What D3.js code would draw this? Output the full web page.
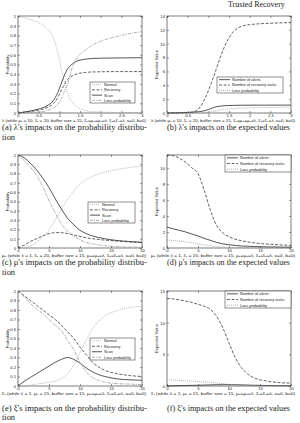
<!DOCTYPE html>
<html><head><meta charset="utf-8">
<script src="https://cdn.jsdelivr.net/npm/d3@7"></script>
<style>body{margin:0;background:#fff}svg{display:block}</style>
</head><body>
<svg id="c" width="300" height="423"></svg>
<script>
// ---------- data ----------
const lambdaX = [0, 0.25, 0.5, 0.7, 0.85, 0.95, 1.0, 1.05, 1.1, 1.15, 1.2, 1.3, 1.4, 1.6, 1.8, 2.0, 2.5, 3.0];
const normalA   = [1.0, 0.97, 0.93, 0.87, 0.78, 0.65, 0.56, 0.45, 0.36, 0.27, 0.2, 0.12, 0.07, 0.03, 0.015, 0.01, 0.005, 0.003];
const recoveryA = [0, 0.013, 0.03, 0.056, 0.095, 0.15, 0.19, 0.24, 0.275, 0.315, 0.345, 0.38, 0.40, 0.417, 0.423, 0.425, 0.427, 0.427];
const scanA     = [0, 0.017, 0.04, 0.074, 0.125, 0.2, 0.25, 0.31, 0.365, 0.415, 0.455, 0.5, 0.53, 0.553, 0.562, 0.565, 0.568, 0.57];
const lossA     = [0, 0.003, 0.01, 0.025, 0.05, 0.08, 0.11, 0.15, 0.2, 0.25, 0.3, 0.45, 0.55, 0.64, 0.7, 0.74, 0.8, 0.84];
const alertsB   = [0, 0.03, 0.08, 0.15, 0.25, 0.4, 0.5, 0.62, 0.73, 0.83, 0.91, 1.0, 1.06, 1.1, 1.12, 1.13, 1.135, 1.14];
const tasksB    = [0, 0.01, 0.05, 0.3, 1.3, 2.5, 3.2, 4.0, 4.8, 5.6, 6.5, 8.2, 9.7, 11.7, 12.5, 12.75, 12.95, 13.05];

const muX = [0, 1, 2, 3, 4, 5, 6, 7, 8, 9, 10, 11, 12, 14, 16, 18, 20];
const normalC   = [0, 0, 0.02, 0.06, 0.12, 0.195, 0.305, 0.415, 0.525, 0.61, 0.685, 0.735, 0.77, 0.815, 0.845, 0.865, 0.88];
const recoveryC = [0, 0.03, 0.07, 0.1, 0.13, 0.155, 0.165, 0.165, 0.155, 0.14, 0.125, 0.11, 0.1, 0.085, 0.075, 0.065, 0.06];
const scanC     = [1.0, 0.97, 0.91, 0.84, 0.75, 0.65, 0.53, 0.42, 0.32, 0.25, 0.19, 0.155, 0.13, 0.1, 0.08, 0.07, 0.06];
const lossC     = [1.0, 0.94, 0.87, 0.78, 0.66, 0.51, 0.38, 0.26, 0.18, 0.13, 0.09, 0.06, 0.045, 0.025, 0.015, 0.01, 0.008];
const alertsD   = [2.6, 2.4, 2.2, 2.0, 1.75, 1.5, 1.2, 0.95, 0.7, 0.52, 0.4, 0.32, 0.25, 0.18, 0.14, 0.12, 0.1];
const tasksD    = [11.6, 11.5, 11.2, 10.7, 10.0, 9.3, 7.2, 4.7, 2.8, 1.9, 1.4, 1.1, 0.9, 0.65, 0.5, 0.4, 0.33];

const xiX = [0, 1, 2, 3, 4, 5, 6, 7, 8, 9, 10, 11, 12, 13, 14, 16, 18, 20];
const normalE   = [0, 0, 0.01, 0.02, 0.03, 0.04, 0.05, 0.08, 0.13, 0.22, 0.35, 0.48, 0.6, 0.68, 0.735, 0.795, 0.825, 0.84];
const recoveryE = [1.0, 0.95, 0.9, 0.85, 0.8, 0.75, 0.7, 0.64, 0.57, 0.5, 0.41, 0.33, 0.25, 0.2, 0.165, 0.13, 0.11, 0.1];
const scanE     = [0, 0.05, 0.09, 0.13, 0.17, 0.21, 0.25, 0.28, 0.3, 0.28, 0.24, 0.19, 0.15, 0.12, 0.1, 0.075, 0.065, 0.06];
const lossE     = [1, 0.94, 0.87, 0.81, 0.76, 0.7, 0.64, 0.58, 0.48, 0.38, 0.25, 0.15, 0.09, 0.06, 0.04, 0.025, 0.02, 0.015];
const alertsF   = [0, 0.03, 0.05, 0.08, 0.1, 0.12, 0.15, 0.18, 0.2, 0.21, 0.22, 0.2, 0.18, 0.15, 0.12, 0.08, 0.06, 0.05];
const tasksF    = [13.8, 13.75, 13.6, 13.4, 13.2, 12.9, 12.6, 12.1, 11.0, 9.2, 6.8, 4.5, 2.9, 1.9, 1.3, 0.8, 0.55, 0.45];

const probTicks = [0, 0.1, 0.2, 0.3, 0.4, 0.5, 0.6, 0.7, 0.8, 0.9, 1];
const lambdaTicks = [0, 0.5, 1, 1.5, 2, 2.5, 3];
const rateTicks = [0, 5, 10, 15, 20];
const probLegend = ["Normal", "Recovery", "Scan", "Loss probability"];
const expLegend = ["Number of alerts", "Number of recovery tasks", "Loss probability"];
const xLabelA = "λ (while μ₁ = 10, ξ₁ = 20, buffer size = 15, ξ₂=μ₂=μ₃=λ, ξ₃=ξ₄=λ, a=0, b=0)";
const xLabelC = "μ₁ (while λ = 1, ξ₁ = 20, buffer size = 15, μ₂=μ₃=λ, ξ₂=ξ₃=λ, a=0, b=0)";
const xLabelE = "ξ₁ (while λ = 1, μ₁ = 15, buffer size = 15, μ₂=μ₃=λ, ξ₂=ξ₃=λ, a=0, b=0)";

// ---------- styles ----------
const ST = {
  normal:   {c:"#a8a8a8", d:"1,1",       w:0.8},
  recovery: {c:"#3a3a3a", d:"3,1.6",     w:0.8},
  scan:     {c:"#2a2a2a", d:null,        w:0.8},
  loss:     {c:"#9a9a9a", d:"3,1,1,1",   w:0.8},
  alerts:   {c:"#2a2a2a", d:null,        w:0.8},
  tasks:    {c:"#3a3a3a", d:"3,1.6",     w:0.8},
  lossE:    {c:"#a0a0a0", d:"1,1",       w:0.8}
};

const svg = d3.select('#c');
svg.append('rect').attr('width',300).attr('height',423).attr('fill','#fff');
svg.append('text').attr('x',228).attr('y',6.5).attr('font-family','Liberation Serif')
  .attr('font-size',8).attr('fill','#222').text('Trusted Recovery');

const SANS = 'Liberation Sans, Arial, sans-serif';

function panel(p){
  const x = d3.scaleLinear().domain(p.xd).range([p.l, p.r]);
  const y = d3.scaleLinear().domain(p.yd).range([p.b, p.t]);
  const g = svg.append('g');
  const fmt = p.xf || (d => String(d));
  const yf = p.yf || (d => String(d));
  const ax = g.append('g').attr('transform',`translate(0,${p.b})`)
    .call(d3.axisBottom(x).tickValues(p.xt).tickFormat(fmt).tickSizeInner(-2).tickSizeOuter(0).tickPadding(0.6));
  const axT = g.append('g').attr('transform',`translate(0,${p.t})`)
    .call(d3.axisTop(x).tickValues(p.xt).tickFormat('').tickSizeInner(-2).tickSizeOuter(0));
  const ay = g.append('g').attr('transform',`translate(${p.l},0)`)
    .call(d3.axisLeft(y).tickValues(p.yt).tickFormat(yf).tickSizeInner(-2).tickSizeOuter(0).tickPadding(2));
  const ayR = g.append('g').attr('transform',`translate(${p.r},0)`)
    .call(d3.axisRight(y).tickValues(p.yt).tickFormat('').tickSizeInner(-2).tickSizeOuter(0));
  [ax, axT, ay, ayR].forEach(a => {
    a.select('.domain').remove();
    a.selectAll('line').attr('stroke','#333').attr('stroke-width',0.5);
    a.selectAll('text').attr('font-family',SANS).attr('font-size',4.2).attr('fill','#222');
  });
  ax.selectAll('text').attr('dy','0.8em');
  g.append('rect').attr('x',p.l).attr('y',p.t).attr('width',p.r-p.l).attr('height',p.b-p.t)
    .attr('fill','none').attr('stroke','#222').attr('stroke-width',0.6);

  const line = d3.line().x(d=>x(d[0])).y(d=>y(d[1])).curve(d3.curveMonotoneX);
  p.series.forEach(s => {
    const st = ST[s.st];
    g.append('path').datum(p.xs.map((v,i)=>[v, s.v[i]]))
      .attr('d', line).attr('fill','none').attr('stroke',st.c).attr('stroke-width',st.w)
      .attr('stroke-dasharray', st.d);
  });

  // labels
  g.append('text').attr('x',p.l-16).attr('y',p.b+9.2).attr('font-family',SANS).attr('font-size',4)
    .attr('fill','#222').attr('textLength',p.r-p.l+20).attr('lengthAdjust','spacingAndGlyphs').text(p.xl);
  g.append('text').attr('transform',`translate(${p.l-9.5},${(p.t+p.b)/2}) rotate(-90)`)
    .attr('text-anchor','middle').attr('font-family',SANS).attr('font-size',4.2).attr('fill','#222').text(p.yl);

  // legend
  const L = p.leg;
  const lg = g.append('g');
  lg.append('rect').attr('x',L.x).attr('y',L.y).attr('width',L.w).attr('height',L.h)
    .attr('fill','#fff').attr('stroke','#222').attr('stroke-width',0.5);
  const rowH = L.h / p.series.length;
  p.series.forEach((s,i) => {
    const st = ST[s.st];
    const cy = L.y + rowH*(i+0.5);
    lg.append('line').attr('x1',L.x+2).attr('x2',L.x+2+L.ls).attr('y1',cy).attr('y2',cy)
      .attr('stroke',st.c).attr('stroke-width',st.w).attr('stroke-dasharray',st.d);
    lg.append('text').attr('x',L.x+4+L.ls).attr('y',cy+1.4).attr('font-family',SANS).attr('font-size',3.9)
      .attr('fill','#222').text(s.name);
  });
}

function caption(x, y, txt, len){
  svg.append('text').attr('x',x).attr('y',y).attr('font-family','Liberation Serif, Times New Roman, serif')
    .attr('font-size',7.2).attr('fill','#222').attr('textLength',len).attr('lengthAdjust','spacingAndGlyphs').text(txt);
}

const L1 = 18, R1 = 142, L2 = 167, R2 = 291;
const rows = [{t:16,b:113},{t:155,b:248},{t:291,b:386}];

panel({l:L1,r:R1,t:rows[0].t,b:rows[0].b,xd:[0,3],yd:[0,1],xt:lambdaTicks,yt:probTicks,xs:lambdaX,
  xl:xLabelA, yl:"Probability",
  series:[{name:probLegend[0],st:'normal',v:normalA},{name:probLegend[1],st:'recovery',v:recoveryA},
          {name:probLegend[2],st:'scan',v:scanA},{name:probLegend[3],st:'loss',v:lossA}],
  leg:{x:90,y:82,w:45,h:21,ls:10}});
panel({l:L2,r:R2,t:rows[0].t,b:rows[0].b,xd:[0,3],yd:[0,14],xt:lambdaTicks,yt:[0,2,4,6,8,10,12,14],xs:lambdaX,
  xl:xLabelA, yl:"Expected Value",
  series:[{name:expLegend[0],st:'alerts',v:alertsB},{name:expLegend[1],st:'tasks',v:tasksB},
          {name:expLegend[2],st:'lossE',v:lossA}],
  leg:{x:217,y:77,w:66,h:16,ls:11}});
panel({l:L1,r:R1,t:rows[1].t,b:rows[1].b,xd:[0,20],yd:[0,1],xt:rateTicks,yt:probTicks,xs:muX,
  xl:xLabelC, yl:"Probability",
  series:[{name:probLegend[0],st:'normal',v:normalC},{name:probLegend[1],st:'recovery',v:recoveryC},
          {name:probLegend[2],st:'scan',v:scanC},{name:probLegend[3],st:'loss',v:lossC}],
  leg:{x:88,y:202,w:47,h:21,ls:10}});
panel({l:L2,r:R2,t:rows[1].t,b:rows[1].b,xd:[0,20],yd:[0,11.6],xt:rateTicks,yt:[0,2,4,6,8,10],xs:muX,
  xl:xLabelC, yl:"Expected Value",
  series:[{name:expLegend[0],st:'alerts',v:alertsD},{name:expLegend[1],st:'tasks',v:tasksD},
          {name:expLegend[2],st:'lossE',v:lossC}],
  leg:{x:225,y:155,w:66,h:17,ls:11}});
panel({l:L1,r:R1,t:rows[2].t,b:rows[2].b,xd:[0,20],yd:[0,1],xt:rateTicks,yt:probTicks,xs:xiX,
  xl:xLabelE, yl:"Probability",
  series:[{name:probLegend[0],st:'normal',v:normalE},{name:probLegend[1],st:'recovery',v:recoveryE},
          {name:probLegend[2],st:'scan',v:scanE},{name:probLegend[3],st:'loss',v:lossE}],
  leg:{x:90,y:338,w:45,h:22,ls:10}});
panel({l:L2,r:R2,t:rows[2].t,b:rows[2].b,xd:[0,20],yd:[0,15],xt:rateTicks,yt:[0,5,10,15],xs:xiX,
  xl:xLabelE, yl:"Expected Value",
  series:[{name:expLegend[0],st:'alerts',v:alertsF},{name:expLegend[1],st:'tasks',v:tasksF},
          {name:expLegend[2],st:'lossE',v:lossE}],
  leg:{x:225,y:291,w:66,h:17,ls:11}});

caption(2, 130, "(a) λ's impacts on the probability distribu-", 145);
caption(2, 139.5, "tion", 13);
caption(167, 130, "(b) λ's impacts on the expected values", 123);
caption(2, 265, "(c) μ's impacts on the probability distribu-", 145);
caption(2, 274.5, "tion", 13);
caption(167, 265, "(d) μ's impacts on the expected values", 123);
caption(2, 410.5, "(e) ξ's impacts on the probability distribu-", 145);
caption(2, 420, "tion", 13);
caption(167, 410.5, "(f) ξ's impacts on the expected values", 123);
</script>
</body></html>
